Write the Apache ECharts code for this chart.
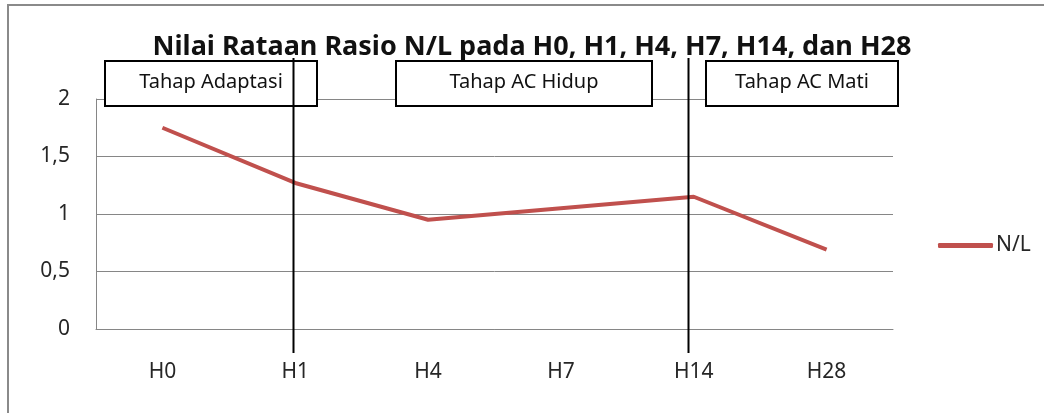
<!DOCTYPE html>
<html>
<head>
<meta charset="utf-8">
<script src="https://cdn.jsdelivr.net/npm/echarts@6/dist/echarts.min.js"></script>
<style>
  html, body { margin: 0; padding: 0; background: #fff; }
  #chart { width: 1044px; height: 413px; }
</style>
</head>
<body>
<div id="chart"></div>
<script>
// data
const categories = ["H0", "H1", "H4", "H7", "H14", "H28"];
const nlValues = [1.75, 1.27, 0.95, 1.05, 1.15, 0.69];
const phaseMarks = ["H1", "H14"];
const phaseLabels = ["Tahap Adaptasi", "Tahap AC Hidup", "Tahap AC Mati"];

const font = "Noto Sans";
const myChart = echarts.init(document.getElementById("chart"));

const option = {
  animation: false,
  backgroundColor: "#fff",
  grid: { left: 96, right: 151, top: 99, bottom: 84 },
  legend: {
    data: ["N/L"],
    left: 933,
    top: 230,
    icon: "roundRect",
    itemWidth: 55,
    itemHeight: 5,
    itemGap: 4,
    textStyle: { fontFamily: font, fontSize: 21, color: "#262626", padding: [0, 0, 0, -2] }
  },
  xAxis: {
    type: "category",
    data: categories,
    axisLine: { lineStyle: { color: "#868686", width: 1 } },
    axisTick: { show: false },
    axisLabel: { margin: 33, fontFamily: font, fontSize: 21, color: "#262626" }
  },
  yAxis: {
    type: "value",
    min: 0,
    max: 2,
    interval: 0.5,
    axisLine: { show: true, lineStyle: { color: "#868686", width: 1 } },
    axisTick: { show: false },
    splitLine: { lineStyle: { color: "#868686", width: 1 } },
    axisLabel: {
      margin: 26,
      fontFamily: font,
      fontSize: 21,
      color: "#262626",
      formatter: (v) => String(v).replace(".", ",")
    }
  },
  series: [
    {
      name: "N/L",
      type: "line",
      data: nlValues,
      symbol: "none",
      lineStyle: { color: "#C0504D", width: 4 },
      itemStyle: { color: "#C0504D" },
      z: 3
    }
  ]
};
myChart.setOption(option);

// annotations: title, phase boxes and phase divider lines
const boxes = [
  { x: 105, w: 212 },
  { x: 396, w: 256 },
  { x: 706, w: 192 }
];
// the divider lines in the original sit a little left of the category centre
const markShift = { H1: -2, H14: -6 };
const graphics = [
  {
    type: "rect",
    shape: { x: 8, y: 5, width: 1100, height: 500 },
    style: { fill: "none", stroke: "#8a8a8a", lineWidth: 2 },
    silent: true,
    z: 1
  },
  {
    type: "text",
    x: 532,
    y: 47,
    style: {
      text: "Nilai Rataan Rasio N/L pada H0, H1, H4, H7, H14, dan H28",
      font: "bold 27px '" + font + "'",
      fill: "#111",
      align: "center",
      verticalAlign: "middle"
    },
    z: 5
  }
];
boxes.forEach((b, i) => {
  graphics.push({
    type: "rect",
    shape: { x: b.x, y: 61, width: b.w, height: 45 },
    style: { fill: "#fff", stroke: "#000", lineWidth: 2 },
    z: 6
  });
  graphics.push({
    type: "text",
    x: b.x + b.w / 2,
    y: 82,
    style: {
      text: phaseLabels[i],
      font: "20px '" + font + "'",
      fill: "#111",
      align: "center",
      verticalAlign: "middle"
    },
    z: 7
  });
});
phaseMarks.forEach((c) => {
  const px = Math.round(myChart.convertToPixel({ xAxisIndex: 0 }, c)) + markShift[c] + 0.5;
  graphics.push({
    type: "line",
    shape: { x1: px, y1: 58, x2: px, y2: 353 },
    style: { stroke: "#000", lineWidth: 2 },
    z: 8
  });
});
myChart.setOption({ graphic: graphics });
</script>
</body>
</html>
